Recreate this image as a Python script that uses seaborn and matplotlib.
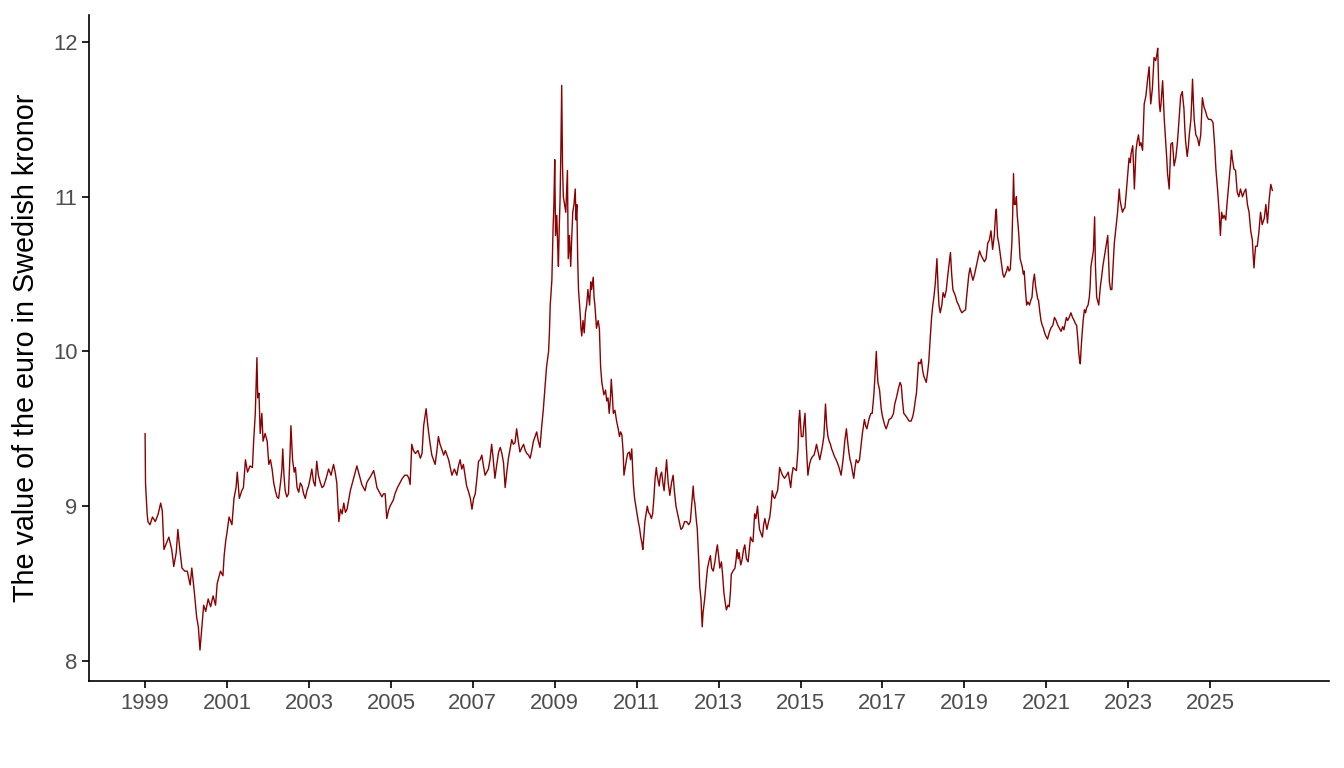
import numpy as np
import pandas as pd
import seaborn as sns
import matplotlib
matplotlib.use("Agg")
import matplotlib.pyplot as plt

# EUR/SEK, decimal year -> kronor per euro
year = [
    1999.00, 1999.01, 1999.05, 1999.07, 1999.12, 1999.18, 1999.25, 1999.32, 1999.38, 1999.42,
    1999.46, 1999.52, 1999.58, 1999.65, 1999.70, 1999.76, 1999.80, 1999.84, 1999.90, 1999.97,
    2000.03, 2000.10, 2000.14, 2000.20, 2000.26, 2000.30, 2000.34, 2000.38, 2000.43, 2000.48,
    2000.54, 2000.60, 2000.66, 2000.72, 2000.76, 2000.84, 2000.90, 2000.93, 2000.97, 2001.00,
    2001.05, 2001.12, 2001.17, 2001.22, 2001.25, 2001.30, 2001.36, 2001.40, 2001.45, 2001.50,
    2001.56, 2001.62, 2001.65, 2001.69, 2001.73, 2001.75, 2001.78, 2001.81, 2001.85, 2001.88,
    2001.93, 2001.98, 2002.02, 2002.06, 2002.10, 2002.14, 2002.18, 2002.22, 2002.26, 2002.31,
    2002.34, 2002.36, 2002.39, 2002.42, 2002.46, 2002.50, 2002.54, 2002.56, 2002.60, 2002.64,
    2002.67, 2002.71, 2002.75, 2002.79, 2002.83, 2002.87, 2002.91, 2002.95, 2002.99, 2003.03,
    2003.07, 2003.11, 2003.15, 2003.19, 2003.23, 2003.28, 2003.32, 2003.36, 2003.42, 2003.48,
    2003.54, 2003.60, 2003.64, 2003.68, 2003.71, 2003.73, 2003.77, 2003.81, 2003.85, 2003.89,
    2003.93, 2003.97, 2004.01, 2004.05, 2004.09, 2004.13, 2004.17, 2004.21, 2004.25, 2004.29,
    2004.33, 2004.37, 2004.41, 2004.45, 2004.50, 2004.54, 2004.58, 2004.62, 2004.66, 2004.70,
    2004.74, 2004.78, 2004.82, 2004.86, 2004.90, 2004.94, 2004.98, 2005.02, 2005.06, 2005.10,
    2005.16, 2005.22, 2005.28, 2005.34, 2005.40, 2005.44, 2005.47, 2005.51, 2005.55, 2005.60,
    2005.66, 2005.72, 2005.76, 2005.80, 2005.86, 2005.89, 2005.92, 2005.96, 2006.00, 2006.04,
    2006.08, 2006.12, 2006.16, 2006.20, 2006.24, 2006.29, 2006.33, 2006.37, 2006.41, 2006.45,
    2006.49, 2006.55, 2006.61, 2006.65, 2006.69, 2006.73, 2006.77, 2006.81, 2006.85, 2006.90,
    2006.94, 2006.98, 2007.02, 2007.06, 2007.10, 2007.14, 2007.18, 2007.22, 2007.26, 2007.30,
    2007.34, 2007.38, 2007.42, 2007.46, 2007.50, 2007.54, 2007.58, 2007.63, 2007.67, 2007.71,
    2007.75, 2007.79, 2007.83, 2007.87, 2007.91, 2007.95, 2007.99, 2008.03, 2008.07, 2008.11,
    2008.15, 2008.20, 2008.24, 2008.28, 2008.32, 2008.36, 2008.40, 2008.44, 2008.48, 2008.52,
    2008.56, 2008.60, 2008.64, 2008.68, 2008.72, 2008.76, 2008.80, 2008.85, 2008.87, 2008.89,
    2008.93, 2008.96, 2008.98, 2009.00, 2009.02, 2009.05, 2009.07, 2009.09, 2009.11, 2009.13,
    2009.15, 2009.17, 2009.19, 2009.21, 2009.24, 2009.27, 2009.31, 2009.33, 2009.36, 2009.39,
    2009.41, 2009.44, 2009.47, 2009.50, 2009.52, 2009.54, 2009.56, 2009.58, 2009.62, 2009.64,
    2009.66, 2009.69, 2009.72, 2009.75, 2009.78, 2009.81, 2009.85, 2009.88, 2009.90, 2009.94,
    2009.96, 2009.98, 2010.02, 2010.06, 2010.09, 2010.12, 2010.15, 2010.18, 2010.20, 2010.24,
    2010.27, 2010.30, 2010.33, 2010.36, 2010.38, 2010.41, 2010.43, 2010.47, 2010.51, 2010.55,
    2010.58, 2010.61, 2010.64, 2010.67, 2010.69, 2010.72, 2010.75, 2010.78, 2010.82, 2010.85,
    2010.88, 2010.90, 2010.92, 2010.95, 2010.98, 2011.01, 2011.04, 2011.07, 2011.10, 2011.13,
    2011.15, 2011.18, 2011.20, 2011.23, 2011.26, 2011.29, 2011.32, 2011.36, 2011.39, 2011.42,
    2011.45, 2011.48, 2011.50, 2011.55, 2011.58, 2011.61, 2011.64, 2011.67, 2011.70, 2011.73,
    2011.77, 2011.81, 2011.85, 2011.89, 2011.92, 2011.96, 2012.00, 2012.04, 2012.08, 2012.12,
    2012.17, 2012.22, 2012.27, 2012.31, 2012.34, 2012.38, 2012.40, 2012.42, 2012.46, 2012.48,
    2012.52, 2012.54, 2012.57, 2012.60, 2012.62, 2012.66, 2012.70, 2012.73, 2012.77, 2012.80,
    2012.83, 2012.87, 2012.91, 2012.94, 2012.97, 2013.00, 2013.03, 2013.07, 2013.10, 2013.13,
    2013.16, 2013.19, 2013.23, 2013.26, 2013.29, 2013.31, 2013.35, 2013.40, 2013.43, 2013.45,
    2013.48, 2013.50, 2013.54, 2013.57, 2013.61, 2013.64, 2013.68, 2013.72, 2013.75, 2013.78,
    2013.81, 2013.84, 2013.88, 2013.91, 2013.95, 2013.98, 2014.00, 2014.04, 2014.07, 2014.10,
    2014.13, 2014.16, 2014.18, 2014.22, 2014.25, 2014.28, 2014.31, 2014.34, 2014.37, 2014.41,
    2014.44, 2014.47, 2014.49, 2014.53, 2014.56, 2014.61, 2014.66, 2014.70, 2014.73, 2014.76,
    2014.79, 2014.82, 2014.86, 2014.90, 2014.94, 2014.96, 2014.98, 2015.02, 2015.06, 2015.08,
    2015.11, 2015.14, 2015.18, 2015.22, 2015.25, 2015.29, 2015.33, 2015.36, 2015.39, 2015.43,
    2015.47, 2015.50, 2015.53, 2015.57, 2015.59, 2015.61, 2015.64, 2015.67, 2015.70, 2015.73,
    2015.76, 2015.79, 2015.83, 2015.87, 2015.90, 2015.94, 2015.99, 2016.02, 2016.05, 2016.08,
    2016.12, 2016.15, 2016.18, 2016.21, 2016.24, 2016.27, 2016.30, 2016.33, 2016.36, 2016.40,
    2016.44, 2016.48, 2016.51, 2016.56, 2016.59, 2016.62, 2016.66, 2016.69, 2016.72, 2016.75,
    2016.79, 2016.82, 2016.85, 2016.87, 2016.89, 2016.93, 2016.97, 2017.00, 2017.03, 2017.06,
    2017.09, 2017.13, 2017.16, 2017.22, 2017.27, 2017.30, 2017.34, 2017.39, 2017.43, 2017.46,
    2017.49, 2017.52, 2017.58, 2017.65, 2017.70, 2017.74, 2017.77, 2017.80, 2017.83, 2017.86,
    2017.88, 2017.92, 2017.95, 2017.98, 2018.01, 2018.04, 2018.07, 2018.10, 2018.13, 2018.15,
    2018.17, 2018.20, 2018.23, 2018.26, 2018.29, 2018.31, 2018.33, 2018.36, 2018.38, 2018.41,
    2018.45, 2018.48, 2018.52, 2018.56, 2018.59, 2018.62, 2018.66, 2018.69, 2018.72, 2018.75,
    2018.78, 2018.82, 2018.86, 2018.90, 2018.94, 2018.98, 2019.03, 2019.05, 2019.08, 2019.11,
    2019.14, 2019.17, 2019.21, 2019.25, 2019.29, 2019.33, 2019.37, 2019.41, 2019.45, 2019.49,
    2019.53, 2019.57, 2019.61, 2019.65, 2019.69, 2019.73, 2019.76, 2019.78, 2019.81, 2019.84,
    2019.87, 2019.91, 2019.94, 2019.97, 2020.00, 2020.03, 2020.06, 2020.09, 2020.12, 2020.16,
    2020.18, 2020.20, 2020.22, 2020.25, 2020.27, 2020.29, 2020.31, 2020.33, 2020.36, 2020.38,
    2020.41, 2020.44, 2020.46, 2020.49, 2020.52, 2020.55, 2020.59, 2020.62, 2020.65, 2020.68,
    2020.71, 2020.74, 2020.77, 2020.79, 2020.81, 2020.84, 2020.87, 2020.90, 2020.93, 2020.96,
    2020.99, 2021.03, 2021.07, 2021.11, 2021.16, 2021.20, 2021.24, 2021.28, 2021.32, 2021.36,
    2021.40, 2021.43, 2021.46, 2021.49, 2021.52, 2021.56, 2021.60, 2021.64, 2021.68, 2021.71,
    2021.74, 2021.77, 2021.79, 2021.81, 2021.83, 2021.85, 2021.87, 2021.90, 2021.93, 2021.96,
    2021.98, 2022.02, 2022.05, 2022.07, 2022.09, 2022.12, 2022.15, 2022.18, 2022.20, 2022.23,
    2022.25, 2022.28, 2022.32, 2022.35, 2022.38, 2022.41, 2022.44, 2022.47, 2022.50, 2022.52,
    2022.54, 2022.57, 2022.60, 2022.63, 2022.66, 2022.70, 2022.74, 2022.76, 2022.78, 2022.80,
    2022.82, 2022.86, 2022.89, 2022.92, 2022.95, 2022.98, 2023.02, 2023.05, 2023.07, 2023.11,
    2023.13, 2023.15, 2023.17, 2023.19, 2023.22, 2023.25, 2023.28, 2023.31, 2023.35, 2023.37,
    2023.39, 2023.43, 2023.47, 2023.51, 2023.53, 2023.55, 2023.57, 2023.59, 2023.61, 2023.63,
    2023.67, 2023.70, 2023.72, 2023.74, 2023.76, 2023.78, 2023.80, 2023.82, 2023.84, 2023.86,
    2023.88, 2023.90, 2023.92, 2023.94, 2023.96, 2023.98, 2024.00, 2024.02, 2024.04, 2024.08,
    2024.10, 2024.12, 2024.16, 2024.18, 2024.20, 2024.22, 2024.24, 2024.26, 2024.28, 2024.32,
    2024.34, 2024.36, 2024.38, 2024.40, 2024.44, 2024.47, 2024.49, 2024.53, 2024.55, 2024.57,
    2024.59, 2024.61, 2024.65, 2024.69, 2024.73, 2024.77, 2024.79, 2024.81, 2024.85, 2024.89,
    2024.92, 2024.96, 2025.02, 2025.07, 2025.09, 2025.11, 2025.14, 2025.18, 2025.22, 2025.25,
    2025.28, 2025.31, 2025.34, 2025.38, 2025.42, 2025.46, 2025.50, 2025.52, 2025.54, 2025.58,
    2025.62, 2025.66, 2025.70, 2025.74, 2025.79, 2025.83, 2025.87, 2025.91, 2025.95, 2025.99,
    2026.03, 2026.05, 2026.07, 2026.09, 2026.11, 2026.15, 2026.19, 2026.23, 2026.27, 2026.32,
    2026.36, 2026.40, 2026.44, 2026.48, 2026.52,
]

sek = [
    9.47, 9.15, 8.95, 8.90, 8.88, 8.93, 8.90, 8.95, 9.02, 8.97,
    8.72, 8.76, 8.80, 8.72, 8.61, 8.70, 8.85, 8.74, 8.60, 8.58,
    8.58, 8.49, 8.60, 8.45, 8.28, 8.22, 8.07, 8.20, 8.36, 8.32,
    8.40, 8.35, 8.42, 8.36, 8.50, 8.58, 8.55, 8.68, 8.78, 8.83,
    8.93, 8.88, 9.05, 9.12, 9.22, 9.05, 9.10, 9.12, 9.30, 9.22,
    9.26, 9.25, 9.42, 9.60, 9.96, 9.70, 9.73, 9.47, 9.60, 9.42,
    9.47, 9.42, 9.27, 9.30, 9.24, 9.15, 9.10, 9.06, 9.05, 9.16,
    9.24, 9.37, 9.20, 9.10, 9.06, 9.08, 9.35, 9.52, 9.30, 9.22,
    9.25, 9.12, 9.09, 9.15, 9.13, 9.08, 9.05, 9.10, 9.13, 9.18,
    9.24, 9.16, 9.13, 9.29, 9.20, 9.15, 9.12, 9.13, 9.18, 9.24,
    9.20, 9.27, 9.22, 9.15, 9.00, 8.90, 8.98, 8.95, 9.02, 8.96,
    8.98, 9.04, 9.10, 9.14, 9.18, 9.22, 9.26, 9.22, 9.18, 9.14,
    9.12, 9.10, 9.15, 9.17, 9.19, 9.21, 9.23, 9.18, 9.12, 9.10,
    9.08, 9.06, 9.08, 9.08, 8.92, 8.97, 9.00, 9.02, 9.04, 9.08,
    9.12, 9.15, 9.18, 9.20, 9.20, 9.18, 9.14, 9.40, 9.36, 9.34,
    9.36, 9.31, 9.34, 9.52, 9.63, 9.55, 9.48, 9.40, 9.33, 9.30,
    9.27, 9.35, 9.45, 9.40, 9.37, 9.33, 9.36, 9.33, 9.30, 9.25,
    9.20, 9.24, 9.20, 9.26, 9.30, 9.24, 9.27, 9.20, 9.13, 9.09,
    9.05, 8.98, 9.05, 9.08, 9.18, 9.29, 9.30, 9.33, 9.26, 9.20,
    9.22, 9.24, 9.30, 9.40, 9.30, 9.18, 9.26, 9.35, 9.38, 9.34,
    9.28, 9.12, 9.22, 9.31, 9.37, 9.43, 9.40, 9.41, 9.50, 9.42,
    9.35, 9.38, 9.40, 9.36, 9.34, 9.33, 9.31, 9.36, 9.42, 9.45,
    9.48, 9.42, 9.38, 9.51, 9.62, 9.76, 9.90, 10.00, 10.12, 10.30,
    10.46, 10.80, 10.95, 11.24, 10.75, 10.88, 10.70, 10.55, 10.80, 10.98,
    11.30, 11.72, 11.20, 11.00, 10.95, 10.90, 11.17, 10.60, 10.75, 10.55,
    10.70, 10.90, 10.95, 11.05, 10.85, 10.95, 10.60, 10.40, 10.25, 10.15,
    10.10, 10.20, 10.12, 10.25, 10.30, 10.40, 10.30, 10.45, 10.40, 10.48,
    10.35, 10.30, 10.15, 10.20, 10.15, 9.90, 9.80, 9.75, 9.72, 9.75,
    9.68, 9.70, 9.60, 9.70, 9.82, 9.70, 9.60, 9.62, 9.55, 9.50,
    9.45, 9.48, 9.46, 9.35, 9.20, 9.25, 9.30, 9.34, 9.35, 9.30,
    9.37, 9.25, 9.14, 9.05, 9.00, 8.95, 8.90, 8.86, 8.80, 8.76,
    8.72, 8.82, 8.90, 8.95, 9.00, 8.96, 8.95, 8.92, 8.95, 9.05,
    9.18, 9.25, 9.20, 9.13, 9.20, 9.22, 9.15, 9.10, 9.20, 9.30,
    9.15, 9.07, 9.15, 9.20, 9.10, 9.00, 8.95, 8.90, 8.85, 8.86,
    8.90, 8.90, 8.88, 8.90, 9.00, 9.13, 9.05, 9.02, 8.90, 8.85,
    8.62, 8.48, 8.40, 8.22, 8.31, 8.40, 8.52, 8.60, 8.65, 8.68,
    8.60, 8.58, 8.64, 8.70, 8.75, 8.68, 8.60, 8.64, 8.55, 8.44,
    8.38, 8.33, 8.36, 8.35, 8.45, 8.56, 8.58, 8.60, 8.66, 8.72,
    8.66, 8.70, 8.62, 8.65, 8.72, 8.75, 8.66, 8.64, 8.72, 8.80,
    8.78, 8.77, 8.95, 8.92, 9.00, 8.90, 8.85, 8.82, 8.80, 8.88,
    8.92, 8.88, 8.85, 8.90, 8.93, 9.00, 9.10, 9.06, 9.05, 9.08,
    9.10, 9.18, 9.25, 9.22, 9.20, 9.18, 9.20, 9.22, 9.17, 9.12,
    9.20, 9.25, 9.24, 9.23, 9.37, 9.55, 9.62, 9.45, 9.45, 9.52,
    9.60, 9.40, 9.20, 9.27, 9.30, 9.32, 9.33, 9.36, 9.40, 9.35,
    9.30, 9.34, 9.38, 9.45, 9.55, 9.66, 9.52, 9.45, 9.42, 9.40,
    9.37, 9.35, 9.32, 9.30, 9.28, 9.25, 9.20, 9.26, 9.33, 9.42,
    9.50, 9.42, 9.35, 9.30, 9.27, 9.22, 9.18, 9.25, 9.30, 9.28,
    9.30, 9.40, 9.47, 9.56, 9.52, 9.50, 9.55, 9.58, 9.60, 9.60,
    9.72, 9.85, 10.00, 9.88, 9.80, 9.75, 9.63, 9.58, 9.55, 9.52,
    9.50, 9.53, 9.56, 9.57, 9.60, 9.66, 9.70, 9.76, 9.80, 9.78,
    9.68, 9.60, 9.58, 9.55, 9.55, 9.58, 9.62, 9.68, 9.73, 9.85,
    9.93, 9.92, 9.95, 9.88, 9.84, 9.82, 9.80, 9.86, 9.93, 10.02,
    10.10, 10.22, 10.30, 10.36, 10.44, 10.52, 10.60, 10.40, 10.30, 10.25,
    10.30, 10.38, 10.35, 10.40, 10.48, 10.55, 10.64, 10.50, 10.40, 10.38,
    10.36, 10.32, 10.30, 10.27, 10.25, 10.26, 10.27, 10.34, 10.42, 10.50,
    10.54, 10.50, 10.46, 10.50, 10.55, 10.60, 10.65, 10.62, 10.60, 10.58,
    10.60, 10.70, 10.72, 10.78, 10.66, 10.75, 10.88, 10.92, 10.74, 10.70,
    10.64, 10.56, 10.50, 10.48, 10.50, 10.52, 10.55, 10.52, 10.53, 10.70,
    10.90, 11.15, 10.95, 10.95, 11.00, 10.88, 10.82, 10.75, 10.60, 10.58,
    10.55, 10.50, 10.52, 10.40, 10.30, 10.32, 10.30, 10.33, 10.35, 10.45,
    10.50, 10.42, 10.37, 10.34, 10.33, 10.26, 10.20, 10.17, 10.15, 10.12,
    10.10, 10.08, 10.12, 10.15, 10.17, 10.22, 10.20, 10.17, 10.15, 10.13,
    10.16, 10.14, 10.18, 10.22, 10.20, 10.22, 10.25, 10.22, 10.20, 10.18,
    10.17, 10.08, 10.00, 9.95, 9.92, 10.02, 10.10, 10.20, 10.27, 10.25,
    10.28, 10.30, 10.35, 10.42, 10.55, 10.60, 10.65, 10.87, 10.55, 10.35,
    10.33, 10.30, 10.42, 10.48, 10.55, 10.60, 10.65, 10.70, 10.75, 10.60,
    10.45, 10.40, 10.40, 10.55, 10.70, 10.80, 10.90, 10.98, 11.05, 10.98,
    10.95, 10.90, 10.92, 10.93, 11.02, 11.12, 11.25, 11.22, 11.28, 11.33,
    11.20, 11.05, 11.18, 11.30, 11.36, 11.40, 11.33, 11.35, 11.30, 11.45,
    11.60, 11.65, 11.75, 11.84, 11.70, 11.60, 11.65, 11.70, 11.80, 11.90,
    11.88, 11.92, 11.96, 11.75, 11.60, 11.55, 11.60, 11.68, 11.75, 11.62,
    11.50, 11.42, 11.35, 11.25, 11.15, 11.10, 11.05, 11.20, 11.34, 11.35,
    11.28, 11.20, 11.25, 11.30, 11.35, 11.42, 11.50, 11.58, 11.65, 11.68,
    11.62, 11.57, 11.45, 11.36, 11.26, 11.33, 11.40, 11.50, 11.62, 11.76,
    11.62, 11.50, 11.40, 11.38, 11.33, 11.40, 11.52, 11.64, 11.58, 11.55,
    11.52, 11.50, 11.50, 11.48, 11.40, 11.33, 11.18, 11.05, 10.90, 10.75,
    10.90, 10.86, 10.88, 10.85, 10.98, 11.10, 11.22, 11.30, 11.25, 11.18,
    11.17, 11.03, 11.00, 11.05, 11.00, 11.03, 11.05, 10.95, 10.90, 10.78,
    10.72, 10.62, 10.54, 10.62, 10.68, 10.68, 10.77, 10.90, 10.82, 10.86,
    10.95, 10.83, 10.98, 11.08, 11.04,
]

year_ticks = list(range(1999, 2026, 2))
kronor_ticks = [8, 9, 10, 11, 12]

n = min(len(year), len(sek))
df = pd.DataFrame({"year": year[:n], "sek": sek[:n]}).sort_values("year")

sns.set_theme(style="ticks")
plt.rcParams["font.family"] = ["Liberation Sans", "DejaVu Sans"]

fig = plt.figure(figsize=(13.44, 7.68), dpi=100)
ax = fig.add_axes([0.0662, 0.1133, 0.9226, 0.8672])

sns.lineplot(data=df, x="year", y="sek", color="#8B0000", linewidth=1.0,
             estimator=None, sort=False, ax=ax)

ax.set_xlim(1997.63, 2027.9)
ax.set_ylim(7.87, 12.175)
ax.set_xticks(year_ticks)
ax.set_xticklabels([str(y) for y in year_ticks])
ax.set_yticks(kronor_ticks)
ax.set_yticklabels([str(v) for v in kronor_ticks])
ax.set_xlabel("")
ax.set_ylabel("The value of the euro in Swedish kronor", fontsize=20.7,
              color="black", labelpad=9.5)

for side in ["top", "right"]:
    ax.spines[side].set_visible(False)
for side in ["left", "bottom"]:
    ax.spines[side].set_color("black")
    ax.spines[side].set_linewidth(1.2)
ax.tick_params(axis="both", length=4.8, width=1.2, color="black",
               labelsize=15.8, labelcolor="#4D4D4D", pad=3.5)
ax.grid(False)

fig.savefig("out.png", dpi=100)
